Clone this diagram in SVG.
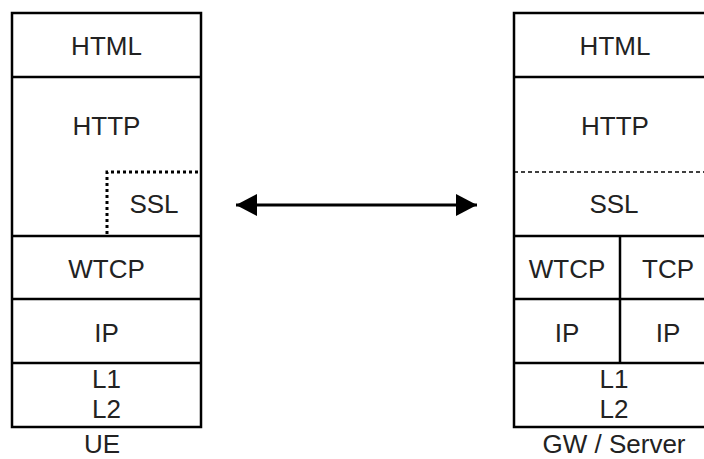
<svg xmlns="http://www.w3.org/2000/svg" width="704" height="459" viewBox="0 0 704 459">
<style>
.t{font-family:"Liberation Sans",Arial,sans-serif;font-size:26px;fill:#222;text-anchor:middle}
.b{fill:none;stroke:#000;stroke-width:2.5}
.l{stroke:#000;stroke-width:2.5}
.dot{stroke:#000;stroke-width:3;stroke-dasharray:3 3;fill:none}
.dash{stroke:#000;stroke-width:1.5;stroke-dasharray:4 3;fill:none}
</style>
<defs>
<marker id="ah" viewBox="0 0 21 22" refX="21" refY="11" markerWidth="21" markerHeight="22" markerUnits="userSpaceOnUse" orient="auto-start-reverse">
<path d="M0,0 L21,11 L0,22 Z" fill="#000"/>
</marker>
</defs>
<rect width="704" height="459" fill="#fff"/>
<g id="ue">
<rect class="b" x="12" y="13" width="189" height="414"/>
<line class="l" x1="12" y1="77" x2="201" y2="77"/>
<line class="l" x1="12" y1="236" x2="201" y2="236"/>
<line class="l" x1="12" y1="299" x2="201" y2="299"/>
<line class="l" x1="12" y1="363" x2="201" y2="363"/>
<path class="dot" d="M107,234 V172 H201"/>
<text class="t" x="106.5" y="55">HTML</text>
<text class="t" x="106.5" y="135">HTTP</text>
<text class="t" x="154" y="213">SSL</text>
<text class="t" x="106.5" y="278">WTCP</text>
<text class="t" x="106.5" y="342">IP</text>
<text class="t" x="106.5" y="388">L1</text>
<text class="t" x="106.5" y="418">L2</text>
<text class="t" x="102" y="453">UE</text>
</g>
<g id="gw">
<rect class="b" x="514" y="13" width="202" height="414"/>
<line class="l" x1="514" y1="77" x2="716" y2="77"/>
<line class="dash" x1="514" y1="172" x2="716" y2="172"/>
<line class="l" x1="514" y1="236" x2="716" y2="236"/>
<line class="l" x1="514" y1="299" x2="716" y2="299"/>
<line class="l" x1="514" y1="363" x2="716" y2="363"/>
<line class="l" x1="620" y1="236" x2="620" y2="363"/>
<text class="t" x="615" y="55">HTML</text>
<text class="t" x="615" y="135">HTTP</text>
<text class="t" x="614" y="213">SSL</text>
<text class="t" x="567" y="278">WTCP</text>
<text class="t" x="668" y="278">TCP</text>
<text class="t" x="567" y="342">IP</text>
<text class="t" x="668" y="342">IP</text>
<text class="t" x="614" y="388">L1</text>
<text class="t" x="614" y="418">L2</text>
<text class="t" x="614" y="453">GW / Server</text>
</g>
<g id="connectors">
<line x1="236" y1="205" x2="477" y2="205" stroke="#000" stroke-width="3" marker-start="url(#ah)" marker-end="url(#ah)"/>
</g>
</svg>
